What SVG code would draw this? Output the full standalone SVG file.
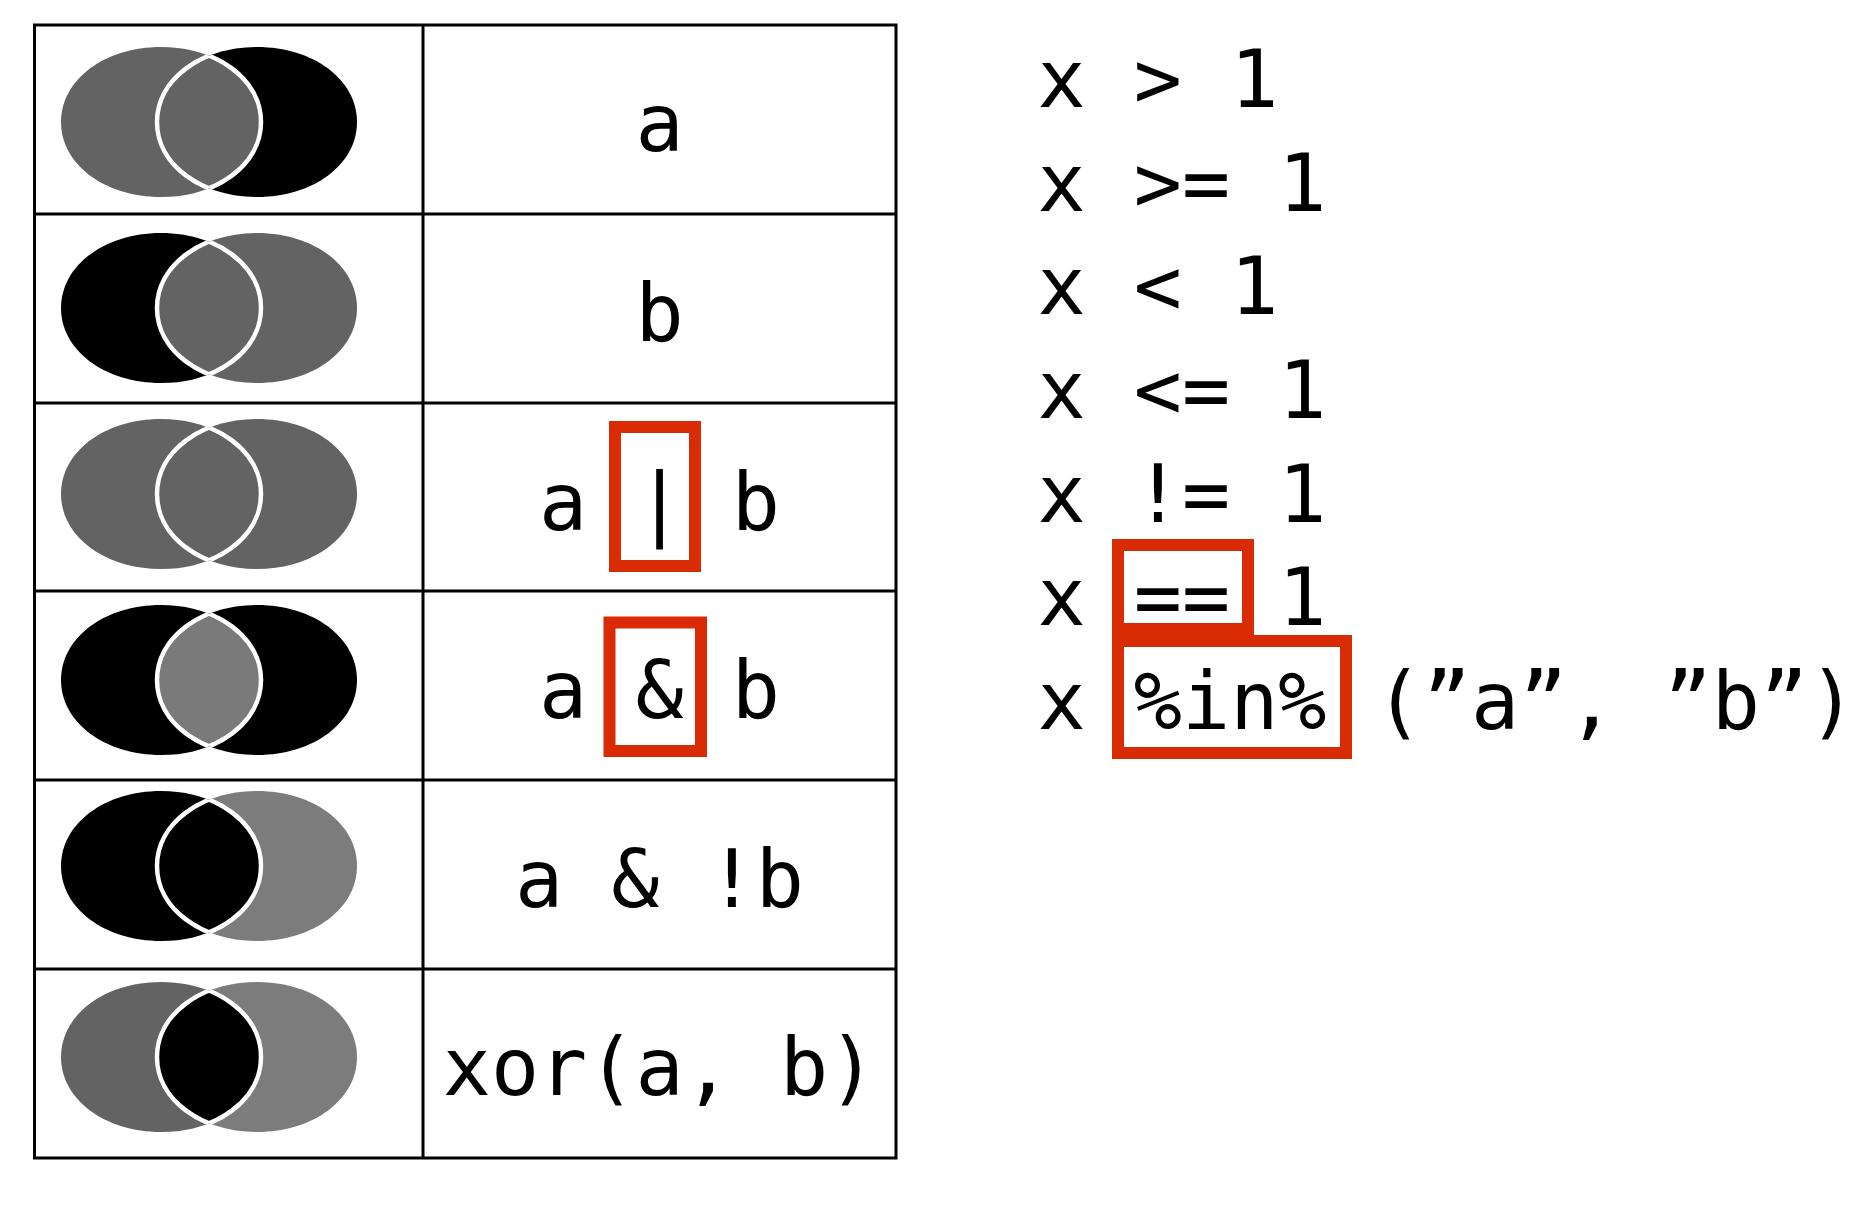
<svg xmlns="http://www.w3.org/2000/svg" xmlns:xlink="http://www.w3.org/1999/xlink" width="1873" height="1230" viewBox="0 0 1873 1230">
<style>
.t{font-family:"DejaVu Sans Mono","Liberation Mono",monospace;font-size:80px;fill:#000}
.c{text-anchor:middle}
.grid{stroke:#000;stroke-width:3;fill:none}
.edge{fill:none;stroke:#fff;stroke-width:4.5}
.hl{fill:none;stroke:#d92b04;stroke-width:12}
</style>
<defs>
<path id="L" d="M61,0 C61,-42.4 104.5,-75 161,-75 C217.5,-75 261,-42.4 261,0 C261,42.4 217.5,75 161,75 C104.5,75 61,42.4 61,0Z"/>
<path id="R" d="M157,0 C157,-42.4 200.5,-75 257,-75 C313.5,-75 357,-42.4 357,0 C357,42.4 313.5,75 257,75 C200.5,75 157,42.4 157,0Z"/>
<clipPath id="cL"><path d="M61,0 C61,-42.4 104.5,-75 161,-75 C217.5,-75 261,-42.4 261,0 C261,42.4 217.5,75 161,75 C104.5,75 61,42.4 61,0Z"/></clipPath>
<clipPath id="cR"><path d="M157,0 C157,-42.4 200.5,-75 257,-75 C313.5,-75 357,-42.4 357,0 C357,42.4 313.5,75 257,75 C200.5,75 157,42.4 157,0Z"/></clipPath>
</defs>
<rect width="1873" height="1230" fill="#fff"/>
<g id="table" class="grid">
<rect x="34.5" y="25" width="861.5" height="1133"/>
<line x1="423" y1="25" x2="423" y2="1158"/>
<line x1="34.5" y1="214" x2="896" y2="214"/>
<line x1="34.5" y1="403" x2="896" y2="403"/>
<line x1="34.5" y1="591" x2="896" y2="591"/>
<line x1="34.5" y1="780" x2="896" y2="780"/>
<line x1="34.5" y1="969" x2="896" y2="969"/>
</g>
<g id="venn1" transform="translate(0,122)"><use xlink:href="#L" fill="#636363"/><use xlink:href="#R" fill="#000"/><use xlink:href="#R" fill="#636363" clip-path="url(#cL)"/><use xlink:href="#R" class="edge" clip-path="url(#cL)"/><use xlink:href="#L" class="edge" clip-path="url(#cR)"/></g>
<g id="venn2" transform="translate(0,308)"><use xlink:href="#L" fill="#000"/><use xlink:href="#R" fill="#636363"/><use xlink:href="#R" fill="#636363" clip-path="url(#cL)"/><use xlink:href="#R" class="edge" clip-path="url(#cL)"/><use xlink:href="#L" class="edge" clip-path="url(#cR)"/></g>
<g id="venn3" transform="translate(0,494)"><use xlink:href="#L" fill="#636363"/><use xlink:href="#R" fill="#636363"/><use xlink:href="#R" fill="#636363" clip-path="url(#cL)"/><use xlink:href="#R" class="edge" clip-path="url(#cL)"/><use xlink:href="#L" class="edge" clip-path="url(#cR)"/></g>
<g id="venn4" transform="translate(0,680)"><use xlink:href="#L" fill="#000"/><use xlink:href="#R" fill="#000"/><use xlink:href="#R" fill="#7a7a7a" clip-path="url(#cL)"/><use xlink:href="#R" class="edge" clip-path="url(#cL)"/><use xlink:href="#L" class="edge" clip-path="url(#cR)"/></g>
<g id="venn5" transform="translate(0,866)"><use xlink:href="#L" fill="#000"/><use xlink:href="#R" fill="#7c7c7c"/><use xlink:href="#R" fill="#000" clip-path="url(#cL)"/><use xlink:href="#R" class="edge" clip-path="url(#cL)"/><use xlink:href="#L" class="edge" clip-path="url(#cR)"/></g>
<g id="venn6" transform="translate(0,1057)"><use xlink:href="#L" fill="#636363"/><use xlink:href="#R" fill="#7c7c7c"/><use xlink:href="#R" fill="#000" clip-path="url(#cL)"/><use xlink:href="#R" class="edge" clip-path="url(#cL)"/><use xlink:href="#L" class="edge" clip-path="url(#cR)"/></g>
<g id="labels">
<text class="t c" x="659.5" y="151">a</text>
<text class="t c" x="659.5" y="341">b</text>
<text class="t c" x="659.5" y="530">a | b</text>
<text class="t c" x="659.5" y="718">a &amp; b</text>
<text class="t c" x="659.5" y="907">a &amp; !b</text>
<text class="t c" x="659.5" y="1095">xor(a, b)</text>
</g>
<g id="highlights">
<rect class="hl" x="615" y="427" width="80" height="139"/>
<rect class="hl" x="609.5" y="622.5" width="91.5" height="128.5"/>
<rect class="hl" x="1118" y="545" width="130" height="84"/>
<rect class="hl" x="1118" y="641" width="228" height="112"/>
</g>
<g id="comparisons">
<text class="t" x="1037.5" y="107">x &gt; 1</text>
<text class="t" x="1037.5" y="210.6">x &gt;= 1</text>
<text class="t" x="1037.5" y="314.3">x &lt; 1</text>
<text class="t" x="1037.5" y="418">x &lt;= 1</text>
<text class="t" x="1037.5" y="521.7">x != 1</text>
<text class="t" x="1037.5" y="625.4">x == 1</text>
<text class="t" x="1037.5" y="729.1">x %in% (”a”, ”b”)</text>
</g>
</svg>
